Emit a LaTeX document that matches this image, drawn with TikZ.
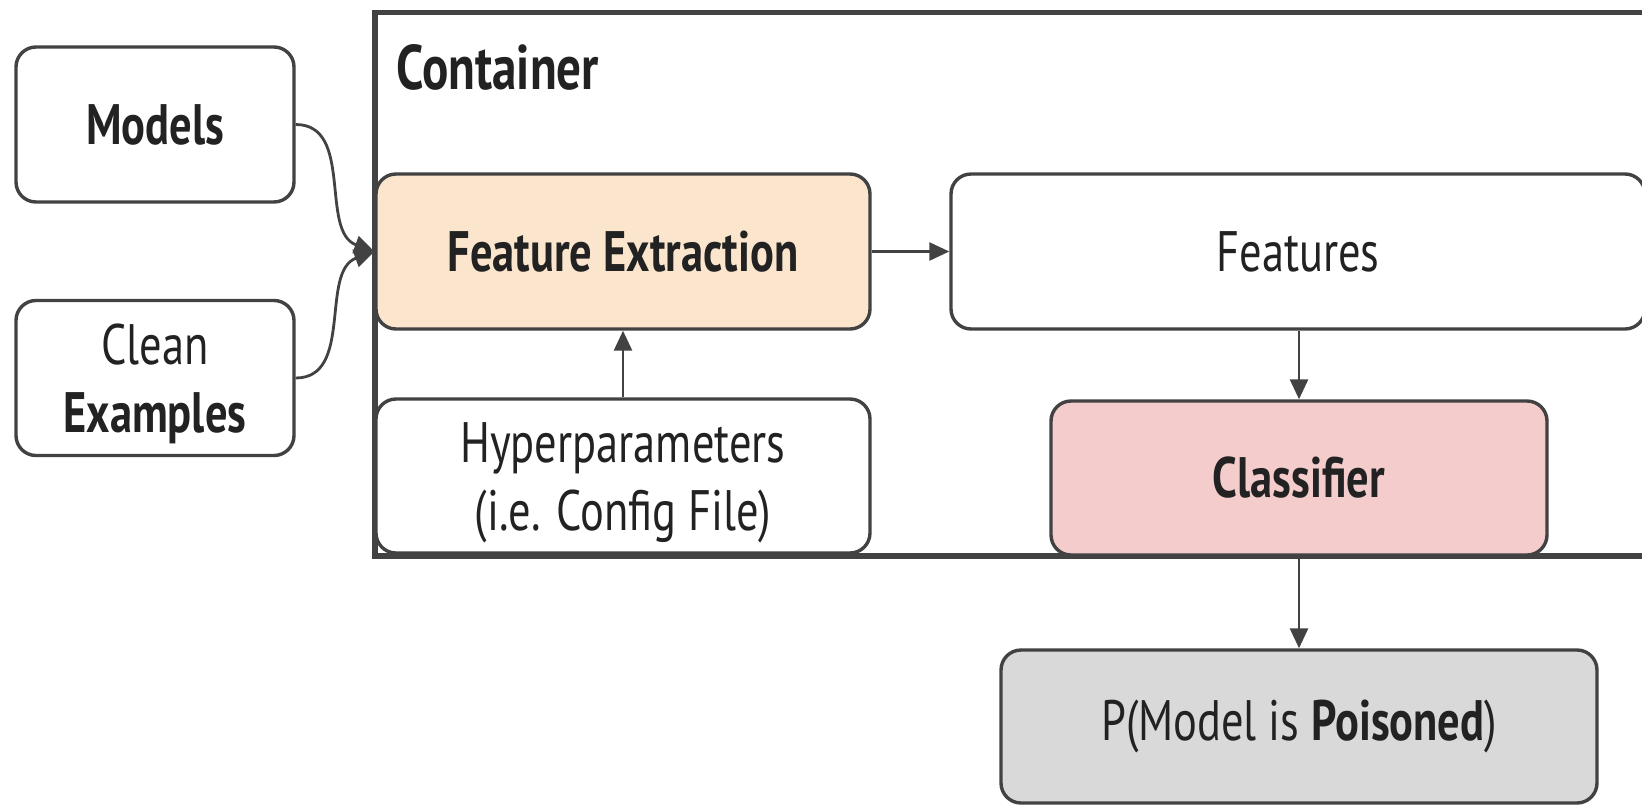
\documentclass[tikz,border=0pt]{standalone}
\usepackage{fontspec}
\setmainfont{PT Sans}[FakeStretch=0.78]
\usetikzlibrary{arrows.meta}
\definecolor{edge}{HTML}{424242}
\definecolor{ink}{HTML}{222222}
\definecolor{peach}{HTML}{FCE5CD}
\definecolor{rose}{HTML}{F4CCCC}
\definecolor{ash}{HTML}{D9D9D9}
% two centred lines, with a little extra room above so they sit slightly low
\newcommand{\twolines}[2]{\begin{tabular}{@{}c@{}}\rule{0pt}{31pt}#1\\#2\end{tabular}}
\tikzset{
  box/.style={draw=edge, line width=1.7pt, rounded corners=10pt, fill=white,
    text=ink, align=center, inner sep=0pt,
    font=\fontsize{28.5}{34}\selectfont},
  link/.style={draw=edge, line width=1.4pt,
    -{Triangle[length=10pt,width=9pt]}},
}
\begin{document}
\begin{tikzpicture}[x=0.5pt, y=-0.5pt]
\useasboundingbox (0,0) rectangle (1642,804);
% outer container
\draw[edge, line width=2.6pt] (375,12.5) rectangle (1660,556);
\node[anchor=base west, text=ink, font=\fontsize{31.5}{36}\selectfont\bfseries, inner sep=0pt]
  (title) at (396,89) {Container};
% inputs
\node[box, minimum width=139pt, minimum height=77.5pt] (models) at (155,124.5) {\textbf{Models}};
\node[box, minimum width=139pt, minimum height=77.5pt] (clean) at (155,378) {\twolines{Clean}{\textbf{Examples}}};
% pipeline inside the container
\node[box, fill=peach, minimum width=247pt, minimum height=77.5pt] (fe) at (623,251.5) {\textbf{Feature Extraction}};
\node[box, minimum width=247pt, minimum height=77pt] (hyper) at (623,476) {\twolines{Hyperparameters}{(i.e. Config File)}};
\node[box, minimum width=347pt, minimum height=77.5pt] (feat) at (1298,251.5) {Features};
\node[box, fill=rose, minimum width=248pt, minimum height=77pt] (cls) at (1299,478) {\textbf{Classifier}};
% output
\node[box, fill=ash, minimum width=298pt, minimum height=76.5pt] (out) at (1299,726.5) {P(Model is \textbf{Poisoned})};
% connectors
\draw[link] (models.east) to[out=0, in=160] (fe.west);
\draw[link] (clean.east) to[out=0, in=200] (fe.west);
\draw[link] (fe.east) -- (feat.west);
\draw[link] (hyper.north) -- (fe.south);
\draw[link] (feat.south -| cls.north) -- (cls.north);
\draw[link] (cls.south) -- (out.north);
\end{tikzpicture}
\end{document}
